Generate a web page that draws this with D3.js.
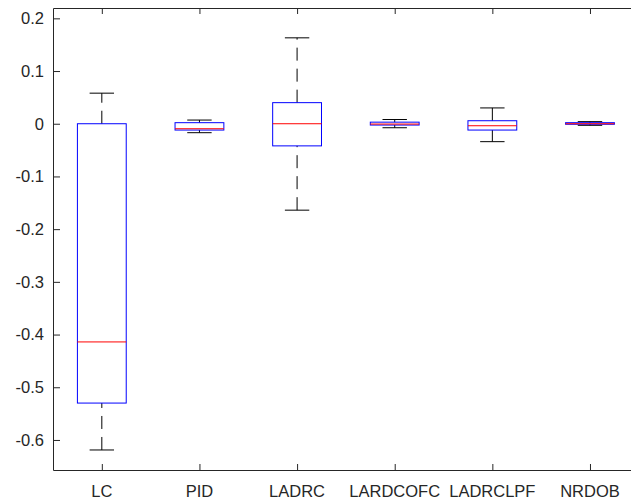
<!DOCTYPE html>
<html>
<head>
<meta charset="utf-8">
<script src="https://cdn.jsdelivr.net/npm/d3@7"></script>
<style>
  body { margin: 0; background: #fff; }
  svg { display: block; }
  text { font-family: "Liberation Sans", Arial, Helvetica, sans-serif; fill: #262626; }
</style>
</head>
<body>
<svg id="chart" width="631" height="501"></svg>
<script>
//
// Data
//
var categories = ['LC', 'PID', 'LADRC', 'LARDCOFC', 'LADRCLPF', 'NRDOB'];
var lowerWhisker = [-0.619, -0.017, -0.164, -0.0076, -0.034, -0.003];
var q1 = [-0.530, -0.012, -0.042, -0.0025, -0.012, -0.001];
var medians = [-0.414, -0.0095, 0, -0.0006, -0.0038, 0];
var q3 = [0, 0.002, 0.040, 0.003, 0.0057, 0.002];
var upperWhisker = [0.058, 0.007, 0.163, 0.008, 0.030, 0.004];
var yTicks = [0.2, 0.1, 0, -0.1, -0.2, -0.3, -0.4, -0.5, -0.6];

var axisColor = '#262626';

//
// Scales
//
// note: "top" is a reserved window global, so use plot* names
var plotLeft = 53, plotRight = 638.8, plotTop = 8, plotBottom = 470;

var x = d3.scaleLinear().domain([0.5, categories.length + 0.5]).range([plotLeft, plotRight]);
var y = d3.scaleLinear().domain([-0.657, 0.2196]).range([plotBottom, plotTop]);

var svg = d3.select('#chart');

var boxes = categories.map(function (c, i) {
    return {name: c, pos: i + 1, lw: lowerWhisker[i], q1: q1[i], med: medians[i], q3: q3[i], uw: upperWhisker[i]};
});

var g = svg.append('g');

// whiskers (dashed), drawn from low value to high value
g.selectAll('line.wlow')
    .data(boxes)
    .enter().append('line')
    .attr('class', 'wlow')
    .attr('x1', function (d) { return x(d.pos); })
    .attr('x2', function (d) { return x(d.pos); })
    .attr('y1', function (d) { return y(d.lw); })
    .attr('y2', function (d) { return y(d.q1); })
    .attr('stroke', '#000').attr('stroke-width', 1).attr('stroke-dasharray', '13,8');

g.selectAll('line.whigh')
    .data(boxes)
    .enter().append('line')
    .attr('class', 'whigh')
    .attr('x1', function (d) { return x(d.pos); })
    .attr('x2', function (d) { return x(d.pos); })
    .attr('y1', function (d) { return y(d.q3); })
    .attr('y2', function (d) { return y(d.uw); })
    .attr('stroke', '#000').attr('stroke-width', 1).attr('stroke-dasharray', '13,8');

// caps
['lw', 'uw'].forEach(function (k) {
    g.selectAll('line.cap-' + k)
        .data(boxes)
        .enter().append('line')
        .attr('class', 'cap-' + k)
        .attr('x1', function (d) { return x(d.pos - 0.125); })
        .attr('x2', function (d) { return x(d.pos + 0.125); })
        .attr('y1', function (d) { return y(d[k]); })
        .attr('y2', function (d) { return y(d[k]); })
        .attr('stroke', '#000').attr('stroke-width', 1);
});

// boxes
g.selectAll('rect.box')
    .data(boxes)
    .enter().append('rect')
    .attr('class', 'box')
    .attr('x', function (d) { return x(d.pos - 0.25); })
    .attr('width', function (d) { return x(d.pos + 0.25) - x(d.pos - 0.25); })
    .attr('y', function (d) { return y(d.q3); })
    .attr('height', function (d) { return y(d.q1) - y(d.q3); })
    .attr('fill', 'none').attr('stroke', '#0000ff').attr('stroke-width', 1);

// medians
g.selectAll('line.med')
    .data(boxes)
    .enter().append('line')
    .attr('class', 'med')
    .attr('x1', function (d) { return x(d.pos - 0.25); })
    .attr('x2', function (d) { return x(d.pos + 0.25); })
    .attr('y1', function (d) { return y(d.med); })
    .attr('y2', function (d) { return y(d.med); })
    .attr('stroke', '#ff0000').attr('stroke-width', 1);

//
// Axes (matlab style, ticks inside, box on)
//
var fontSize = '16.5px';

var yAxis = svg.append('g')
    .attr('transform', 'translate(' + plotLeft + ',0)')
    .call(d3.axisRight(y).tickValues(yTicks).tickSize(7).tickFormat(''));
yAxis.select('.domain').remove();
yAxis.selectAll('line').attr('stroke', axisColor);

// matlab prints a plain hyphen, not the unicode minus d3 uses
var fmt = function (d) { return String(d); };

svg.append('g').selectAll('text')
    .data(yTicks)
    .enter().append('text')
    .attr('x', plotLeft - 9)
    .attr('y', function (d) { return y(d); })
    .attr('dy', '0.35em')
    .attr('text-anchor', 'end')
    .style('font-size', fontSize)
    .text(fmt);

var xBottom = svg.append('g')
    .attr('transform', 'translate(0,' + plotBottom + ')')
    .call(d3.axisTop(x).tickValues(d3.range(1, categories.length + 1)).tickSize(6).tickFormat(''));
xBottom.select('.domain').remove();
xBottom.selectAll('line').attr('stroke', axisColor);

var xTop = svg.append('g')
    .attr('transform', 'translate(0,' + plotTop + ')')
    .call(d3.axisBottom(x).tickValues(d3.range(1, categories.length + 1)).tickSize(6).tickFormat(''));
xTop.select('.domain').remove();
xTop.selectAll('line').attr('stroke', axisColor);

svg.append('g').selectAll('text')
    .data(boxes)
    .enter().append('text')
    .attr('x', function (d) { return x(d.pos); })
    .attr('y', 496.5)
    .attr('text-anchor', 'middle')
    .style('font-size', fontSize)
    .text(function (d) { return d.name; });

// axis frame
svg.append('path')
    .attr('d', 'M' + plotRight + ',' + (plotTop + 0.5) + 'H' + (plotLeft + 0.5) + 'V' + (plotBottom + 0.5) + 'H' + plotRight)
    .attr('fill', 'none')
    .attr('stroke', axisColor)
    .attr('stroke-width', 1);
</script>
</body>
</html>
